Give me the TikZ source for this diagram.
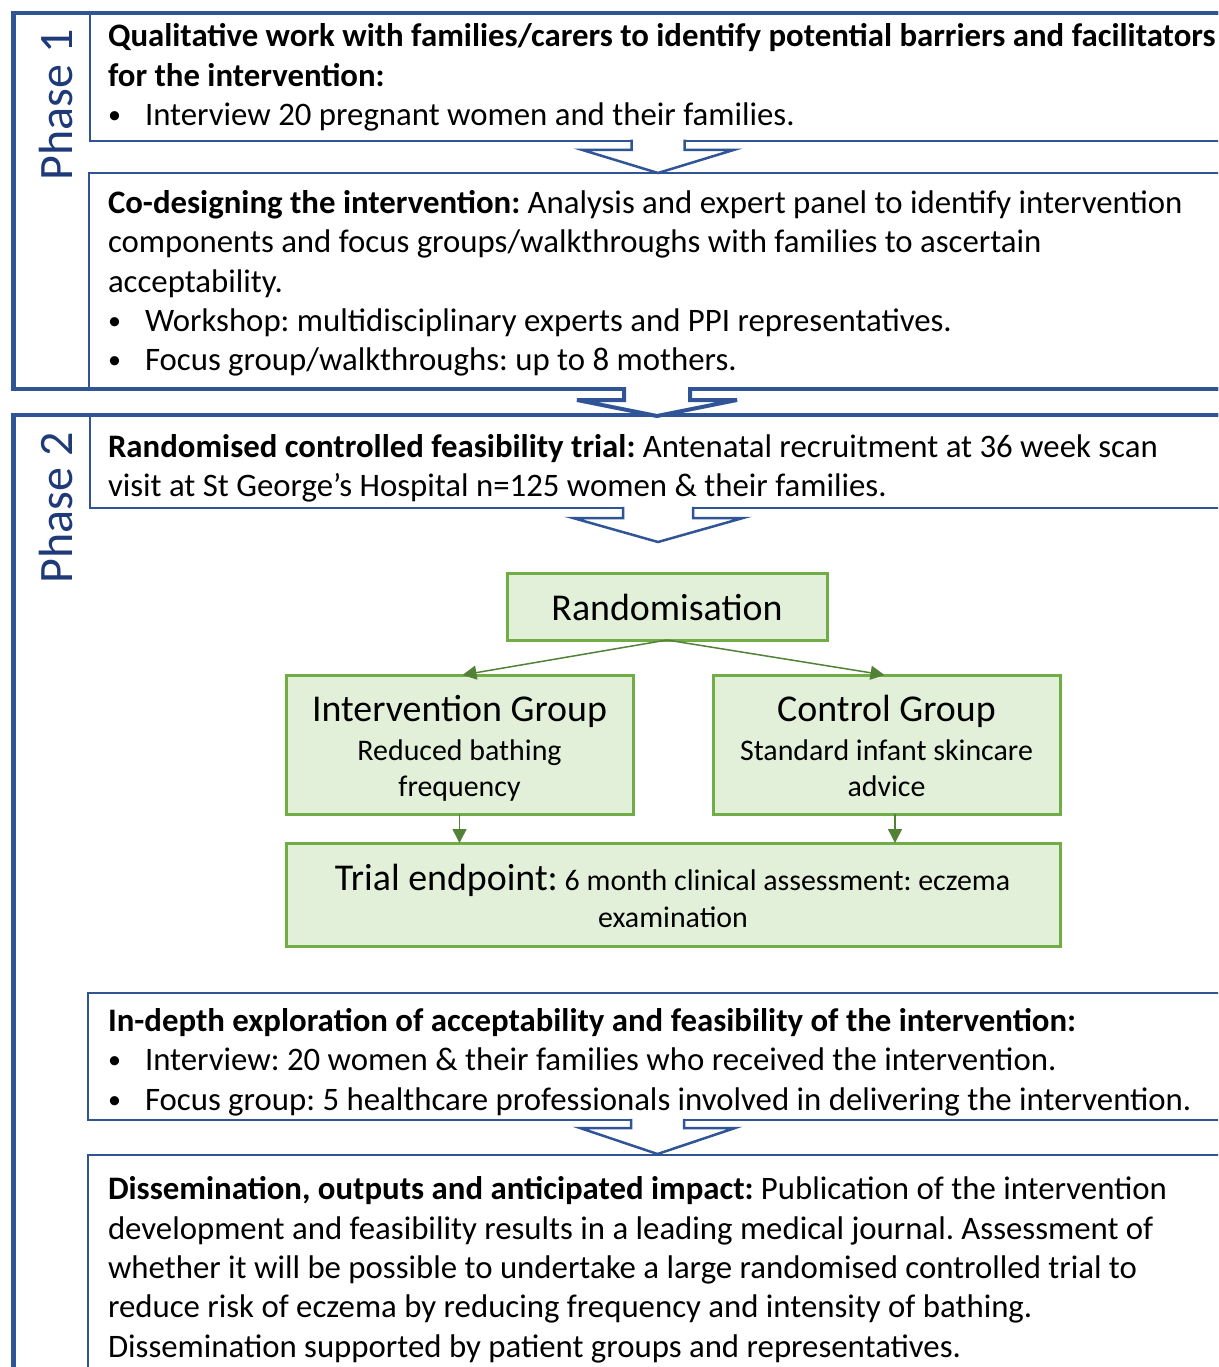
\documentclass[tikz,border=0pt]{standalone}
\usepackage{fontspec}
\setmainfont{Carlito}
\usetikzlibrary{arrows.meta,calc}
\definecolor{pblue}{HTML}{2F5597}
\definecolor{navy}{HTML}{1F3A78}
\definecolor{gfill}{HTML}{E2F0D9}
\definecolor{gline}{HTML}{70AD47}
\definecolor{garr}{HTML}{538135}
\frenchspacing
\newcommand\bul{\raisebox{2pt}{\fontsize{26}{30}\selectfont •}}
% chevron: xc, ytop, ybar, ytip, half shaft, half head, line width
\newcommand\chevron[7]{%
  \fill[white] (#1-#5,#2-#7*0.5-0.5) -- (#1-#5,#3) -- (#1-#6,#3) -- (#1,#4) -- (#1+#6,#3) -- (#1+#5,#3) -- (#1+#5,#2-#7*0.5-0.5) -- cycle;
  \draw[draw=pblue, line width=#7pt, line join=miter] (#1-#5,#2-#7*0.5) -- (#1-#5,#3) -- (#1-#6,#3) -- (#1,#4) -- (#1+#6,#3) -- (#1+#5,#3) -- (#1+#5,#2-#7*0.5);
}
\begin{document}
\begin{tikzpicture}[x=1pt,y=-1pt,
  phasebox/.style={draw=pblue, line width=4.5pt},
  bluebox/.style={draw=pblue, line width=2.5pt},
  gbox/.style={draw=gline, fill=gfill, line width=3pt, inner sep=0pt, outer sep=0pt, anchor=north west},
  garrow/.style={draw=garr, line width=1.5pt, -{Triangle[length=14pt,width=14pt]}},
  txt/.style={inner sep=0pt, outer sep=0pt, anchor=base west, yshift=-1.5pt, font=\fontsize{32.8}{39.6}\selectfont},
  bigtxt/.style={inner sep=0pt, outer sep=0pt, anchor=base, font=\fontsize{37.9}{46}\selectfont},
  smalltxt/.style={inner sep=0pt, outer sep=0pt, anchor=base, font=\fontsize{29.9}{36}\selectfont},
  phasetxt/.style={inner sep=0pt, outer sep=0pt, anchor=base, rotate=90, text=navy, font=\fontsize{48}{58}\selectfont},
]
\useasboundingbox (0,0) rectangle (1218,1367);
\fill[white] (0,0) rectangle (1218,1367);
\clip (0,0) rectangle (1218,1367);

% ---------- Phase 1 ----------
\draw[phasebox] (13.5,13) rectangle (1245,389);
\draw[bluebox] (90,13) rectangle (1245,141);
\draw[bluebox] (89,173) rectangle (1245,389);
\draw[phasebox] (13.5,13) -- (1245,13);
\draw[phasebox] (13.5,389) -- (1245,389);
\node[phasetxt] (ph1) at (72,105) {Phase 1};

\node[txt] (q1) at (108,45) {\textbf{Qualitative work with families/carers to identify potential barriers and facilitators}};
\node[txt] (q2) at (108,85) {\textbf{for the intervention:}};
\node[txt] (q3b) at (108,124) {\bul};
\node[txt] (q3) at (145,124) {Interview 20 pregnant women and their families.};

\chevron{658}{141}{150}{173}{26.5}{75.5}{2.5}

\node[txt] (c1) at (108,212) {\textbf{Co-designing the intervention:} Analysis and expert panel to identify intervention};
\node[txt] (c2) at (108,251) {components and focus groups/walkthroughs with families to ascertain};
\node[txt] (c3) at (108,291) {acceptability.};
\node[txt] (c4b) at (108,330) {\bul};
\node[txt] (c4) at (145,330) {Workshop: multidisciplinary experts and PPI representatives.};
\node[txt] (c5b) at (108,369) {\bul};
\node[txt] (c5) at (145,369) {Focus group/walkthroughs: up to 8 mothers.};

% ---------- Phase 2 ----------
\draw[phasebox] (13.5,415) rectangle (1245,1420);
\draw[bluebox] (90,415) rectangle (1245,508);
\draw[phasebox] (13.5,415) -- (1245,415);
\chevron{657}{389}{400}{416}{33}{80}{4}
\node[phasetxt] (ph2) at (72,508) {Phase 2};

\node[txt] (r1) at (108,456) {\textbf{Randomised controlled feasibility trial:} Antenatal recruitment at 36 week scan};
\node[txt] (r2) at (108,495) {visit at St George’s Hospital n=125 women \& their families.};

\chevron{658}{508}{518}{542}{35}{85}{2.5}

% green flow
\node[gbox, minimum width=320pt, minimum height=67pt] (rand) at (507,573) {};
\node[gbox, minimum width=347pt, minimum height=139pt] (int) at (286,675) {};
\node[gbox, minimum width=347pt, minimum height=139pt] (ctrl) at (713,675) {};
\node[gbox, minimum width=774pt, minimum height=103pt] (end) at (286,843) {};

\node[bigtxt] (randt) at (667,620) {Randomisation};
\node[bigtxt] (intt) at (459.5,721) {Intervention Group};
\node[smalltxt] (intt2) at (459.5,760) {Reduced bathing};
\node[smalltxt] (intt3) at (459.5,796) {frequency};
\node[bigtxt] (ctrlt) at (886.5,721) {Control Group};
\node[smalltxt] (ctrlt2) at (886.5,760) {Standard infant skincare};
\node[smalltxt] (ctrlt3) at (886.5,796) {advice};
\node[smalltxt] (endt) at (672.5,890) {{\fontsize{37.9}{46}\selectfont Trial endpoint:} 6 month clinical assessment: eczema};
\node[smalltxt] (endt2) at (673,927) {examination};

\draw[garrow] (rand.south) -- ([xshift=3pt]int.north);
\draw[garrow] (rand.south) -- ([xshift=-2pt]ctrl.north);
\draw[garrow] (int.south) -- (int.south |- end.north);
\draw[garrow] ([xshift=8.5pt]ctrl.south) -- ([xshift=8.5pt]ctrl.south |- end.north);

% in-depth
\draw[bluebox] (88,993) rectangle (1245,1120);
\node[txt] (d1) at (108,1030) {\textbf{In-depth exploration of acceptability and feasibility of the intervention:}};
\node[txt] (d2b) at (108,1069) {\bul};
\node[txt] (d2) at (145,1069) {Interview: 20 women \& their families who received the intervention.};
\node[txt] (d3b) at (108,1109) {\bul};
\node[txt] (d3) at (145,1109) {Focus group: 5 healthcare professionals involved in delivering the intervention.};

\draw[bluebox] (88,1155) rectangle (1245,1420);
\chevron{657.5}{1120}{1128}{1154}{26.5}{77.5}{2.5}

\node[txt] (e1) at (108,1198) {\textbf{Dissemination, outputs and anticipated impact:} Publication of the intervention};
\node[txt] (e2) at (108,1238) {development and feasibility results in a leading medical journal. Assessment of};
\node[txt] (e3) at (108,1277) {whether it will be possible to undertake a large randomised controlled trial to};
\node[txt] (e4) at (108,1316) {reduce risk of eczema by reducing frequency and intensity of bathing.};
\node[txt] (e5) at (108,1356) {Dissemination supported by patient groups and representatives.};
\end{tikzpicture}
\end{document}
